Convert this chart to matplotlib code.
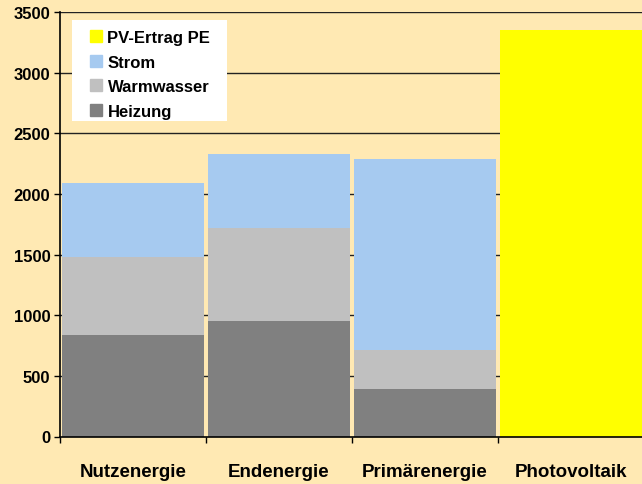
import matplotlib
matplotlib.use("Agg")
import matplotlib.pyplot as plt
from matplotlib.patches import Patch, Rectangle
import numpy as np

categories = ["Nutzenergie", "Endenergie", "Primärenergie", "Photovoltaik"]
heizung = [834, 955, 393, 0]
warmwasser = [642, 761, 322, 0]
strom = [612, 612, 1572, 0]
pv_ertrag = [0, 0, 0, 3354]
yticks = [0, 500, 1000, 1500, 2000, 2500, 3000, 3500]

bg = "#FFE9B3"
c_heiz = "#808080"
c_ww = "#C0C0C0"
c_strom = "#A6CAF0"
c_pv = "#FFFF00"

plt.rcParams["font.family"] = ["Liberation Sans", "DejaVu Sans"]
plt.rcParams["font.weight"] = "bold"

W, H = 642, 485
fig = plt.figure(figsize=(W/100, H/100), dpi=100, facecolor=bg)
ax = fig.add_axes([60/W, 47.5/H, 584/W, 424.5/H])
ax.set_facecolor(bg)

x = np.arange(len(categories))
w = 0.972
h = np.array(heizung); ww = np.array(warmwasser); s = np.array(strom); pv = np.array(pv_ertrag)
ax.bar(x, h, width=w, color=c_heiz, zorder=2)
ax.bar(x, ww, width=w, bottom=h, color=c_ww, zorder=2)
ax.bar(x, s, width=w, bottom=h+ww, color=c_strom, zorder=2)
ax.bar(x, pv, width=w, bottom=h+ww+s, color=c_pv, zorder=2)

ax.set_xlim(-0.5, 3.5)
ax.set_ylim(0, 3500)
ax.set_yticks(yticks)
ax.set_yticklabels([str(v) for v in yticks], fontsize=12, fontweight="bold")
for yv in yticks[1:]:
    ax.axhline(yv, color="#222222", lw=1.0, zorder=1)

ax.set_xticks(x)
ax.set_xticklabels(categories, fontsize=13.5, fontweight="bold")
ax.tick_params(axis="x", length=0, pad=19)
ax.set_xticks([-0.5, 0.5, 1.5, 2.5], minor=True)
ax.tick_params(axis="x", which="minor", length=4, width=1, direction="out")
ax.tick_params(axis="y", length=4, width=1, direction="out", pad=3)

for sp in ["top", "right"]:
    ax.spines[sp].set_visible(False)
ax.spines["left"].set_linewidth(1.2)
ax.spines["bottom"].set_linewidth(1.2)
ax.spines["left"].set_zorder(3)
ax.spines["bottom"].set_zorder(3)

# legend background box
fig.patches.append(Rectangle((72/W, (H-122)/H), 155/W, 101/H, transform=fig.transFigure,
                             facecolor="white", edgecolor="none", zorder=4))

handles = [Patch(color=c_pv, label="PV-Ertrag PE"),
           Patch(color=c_strom, label="Strom"),
           Patch(color=c_ww, label="Warmwasser"),
           Patch(color=c_heiz, label="Heizung")]
leg = fig.legend(handles=handles, loc="upper left", bbox_to_anchor=(90/W, (H-31)/H),
                 bbox_transform=fig.transFigure,
                 frameon=False, prop={"size": 12, "weight": "bold"},
                 handlelength=0.75, handleheight=0.75, handletextpad=0.3,
                 labelspacing=0.57, borderpad=0, borderaxespad=0)
leg.set_zorder(6)

fig.savefig("out.png", dpi=100, facecolor=bg)
